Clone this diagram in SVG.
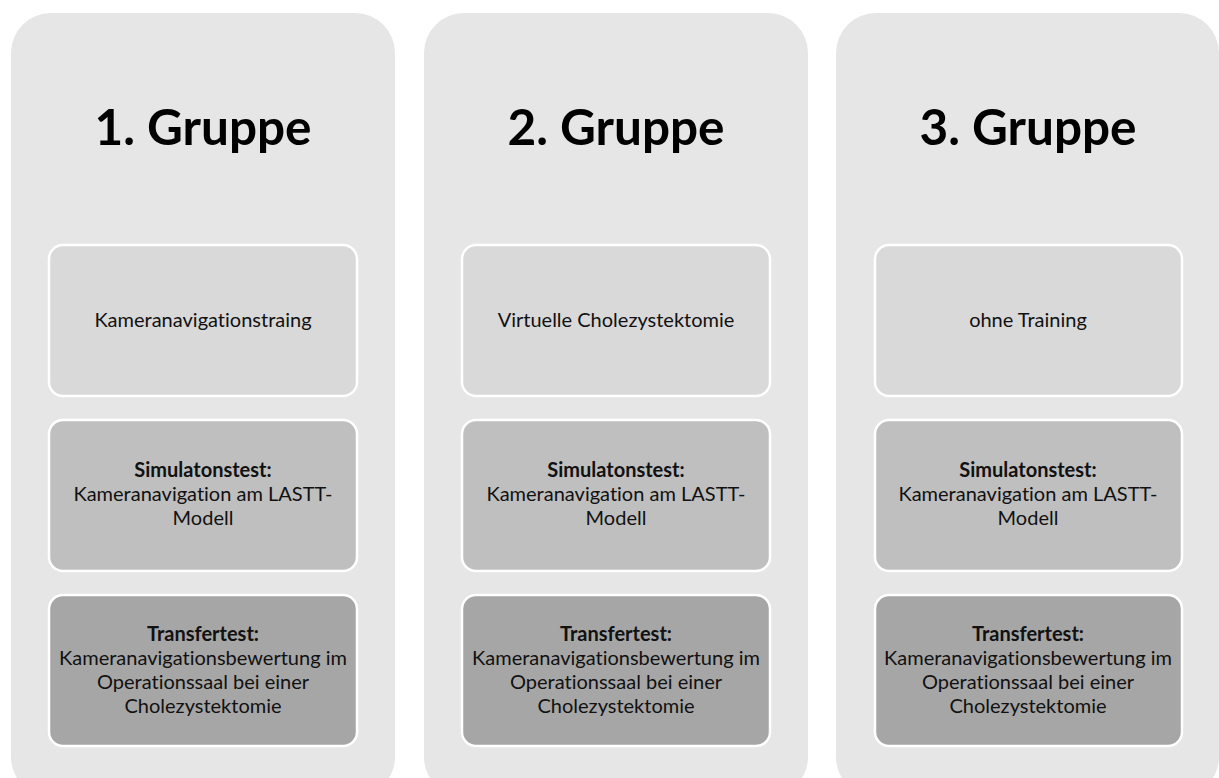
<svg xmlns="http://www.w3.org/2000/svg" width="1219" height="778" viewBox="0 0 1219 778">
<style>
.panel{fill:#e6e6e6}
.b1{fill:#d9d9d9;stroke:#ffffff;stroke-width:2.5}
.b2{fill:#bfbfbf;stroke:#ffffff;stroke-width:2.5}
.b3{fill:#a6a6a6;stroke:#ffffff;stroke-width:2.5}
text{font-variant-ligatures:none;font-feature-settings:"liga" 0,"clig" 0,"dlig" 0}
.h{font-family:Lato,"Liberation Sans",sans-serif;font-weight:bold;font-size:49.5px;fill:#000;text-anchor:middle}
.t{font-family:Lato,"Liberation Sans",sans-serif;font-size:20px;fill:#111;text-anchor:middle}
.tb{font-weight:bold}
</style>
<rect width="1219" height="778" fill="#ffffff"/>
<g id="gruppe1">
<rect class="panel" x="11" y="13" width="384" height="784" rx="40"/>
<text class="h" x="203" y="145">1. Gruppe</text>
<g id="g1-training"><rect class="b1" x="49" y="245" width="308" height="151" rx="14"/>
<text class="t" x="203" y="327">Kameranavigationstraing</text></g>
<g id="g1-sim"><rect class="b2" x="49" y="420" width="308" height="151" rx="14"/>
<text class="t" x="203" y="477"><tspan class="tb">Simulatonstest:</tspan><tspan x="203" dy="24">Kameranavigation am LASTT-</tspan><tspan x="203" dy="24">Modell</tspan></text></g>
<g id="g1-transfer"><rect class="b3" x="49" y="595" width="308" height="151" rx="14"/>
<text class="t" x="203" y="641"><tspan class="tb">Transfertest:</tspan><tspan x="203" dy="24">Kameranavigationsbewertung im</tspan><tspan x="203" dy="24">Operationssaal bei einer</tspan><tspan x="203" dy="24">Cholezystektomie</tspan></text></g>
</g>
<g id="gruppe2">
<rect class="panel" x="424" y="13" width="384" height="784" rx="40"/>
<text class="h" x="616" y="145">2. Gruppe</text>
<g id="g2-training"><rect class="b1" x="462" y="245" width="308" height="151" rx="14"/>
<text class="t" x="616" y="327">Virtuelle Cholezystektomie</text></g>
<g id="g2-sim"><rect class="b2" x="462" y="420" width="308" height="151" rx="14"/>
<text class="t" x="616" y="477"><tspan class="tb">Simulatonstest:</tspan><tspan x="616" dy="24">Kameranavigation am LASTT-</tspan><tspan x="616" dy="24">Modell</tspan></text></g>
<g id="g2-transfer"><rect class="b3" x="462" y="595" width="308" height="151" rx="14"/>
<text class="t" x="616" y="641"><tspan class="tb">Transfertest:</tspan><tspan x="616" dy="24">Kameranavigationsbewertung im</tspan><tspan x="616" dy="24">Operationssaal bei einer</tspan><tspan x="616" dy="24">Cholezystektomie</tspan></text></g>
</g>
<g id="gruppe3">
<rect class="panel" x="836" y="13" width="383" height="784" rx="40"/>
<text class="h" x="1028" y="145">3. Gruppe</text>
<g id="g3-training"><rect class="b1" x="875" y="245" width="307" height="151" rx="14"/>
<text class="t" x="1028" y="327">ohne Training</text></g>
<g id="g3-sim"><rect class="b2" x="875" y="420" width="307" height="151" rx="14"/>
<text class="t" x="1028" y="477"><tspan class="tb">Simulatonstest:</tspan><tspan x="1028" dy="24">Kameranavigation am LASTT-</tspan><tspan x="1028" dy="24">Modell</tspan></text></g>
<g id="g3-transfer"><rect class="b3" x="875" y="595" width="307" height="151" rx="14"/>
<text class="t" x="1028" y="641"><tspan class="tb">Transfertest:</tspan><tspan x="1028" dy="24">Kameranavigationsbewertung im</tspan><tspan x="1028" dy="24">Operationssaal bei einer</tspan><tspan x="1028" dy="24">Cholezystektomie</tspan></text></g>
</g>
<g id="connectors"></g>
</svg>
